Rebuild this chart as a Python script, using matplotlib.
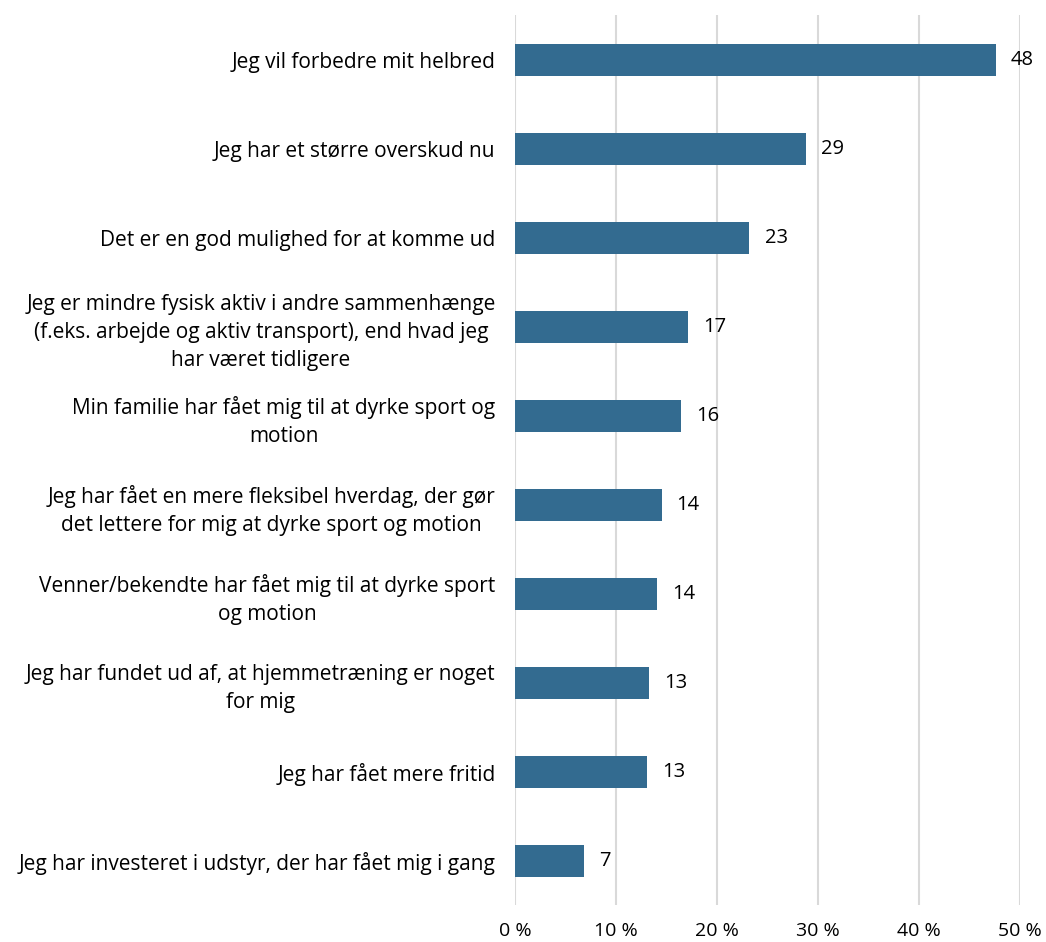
import matplotlib
matplotlib.use("Agg")
from matplotlib import pyplot as plt

labels = [
    "Jeg vil forbedre mit helbred",
    "Jeg har et større overskud nu",
    "Det er en god mulighed for at komme ud",
    "Jeg er mindre fysisk aktiv i andre sammenhænge\n(f.eks. arbejde og aktiv transport), end hvad jeg\nhar været tidligere",
    "Min familie har fået mig til at dyrke sport og\nmotion",
    "Jeg har fået en mere fleksibel hverdag, der gør\ndet lettere for mig at dyrke sport og motion",
    "Venner/bekendte har fået mig til at dyrke sport\nog motion",
    "Jeg har fundet ud af, at hjemmetræning er noget\nfor mig",
    "Jeg har fået mere fritid",
    "Jeg har investeret i udstyr, der har fået mig i gang",
]
values = [47.6, 28.8, 23.2, 17.1, 16.4, 14.5, 14.1, 13.3, 13.1, 6.8]
shown = [48, 29, 23, 17, 16, 14, 14, 13, 13, 7]
ticks = [0, 10, 20, 30, 40, 50]

plt.rcParams['font.family'] = ['Open Sans', 'DejaVu Sans']

fig = plt.figure(figsize=(10.46, 9.42), dpi=100)
ax = fig.add_axes([0.4924, 0.039, 0.4828, 0.945])

pos = list(range(len(labels)))
ax.barh(pos, values, height=0.36, color="#336b90", zorder=3)
for p, v, s in zip(pos, values, shown):
    ax.text(v + 1.5, p, str(s), va="center", ha="left", fontsize=14.5, color="black")

ax.set_xlim(0, 50)
ax.set_ylim(9.5, -0.5)
ax.set_xticks(ticks)
ax.set_xticklabels(["%d %%" % t for t in ticks], fontsize=14, color="black")
ax.set_yticks(pos)
ax.set_yticklabels(labels, fontsize=15, color="black", multialignment="center", linespacing=1.45)
ax.tick_params(axis="both", length=0)
ax.tick_params(axis="x", pad=12)
ax.tick_params(axis="y", pad=14)
ax.grid(axis="x", color="#d9d9d9", linewidth=1.5, zorder=0)
for sp in ax.spines.values():
    sp.set_visible(False)

fig.savefig("out.png", dpi=100)
